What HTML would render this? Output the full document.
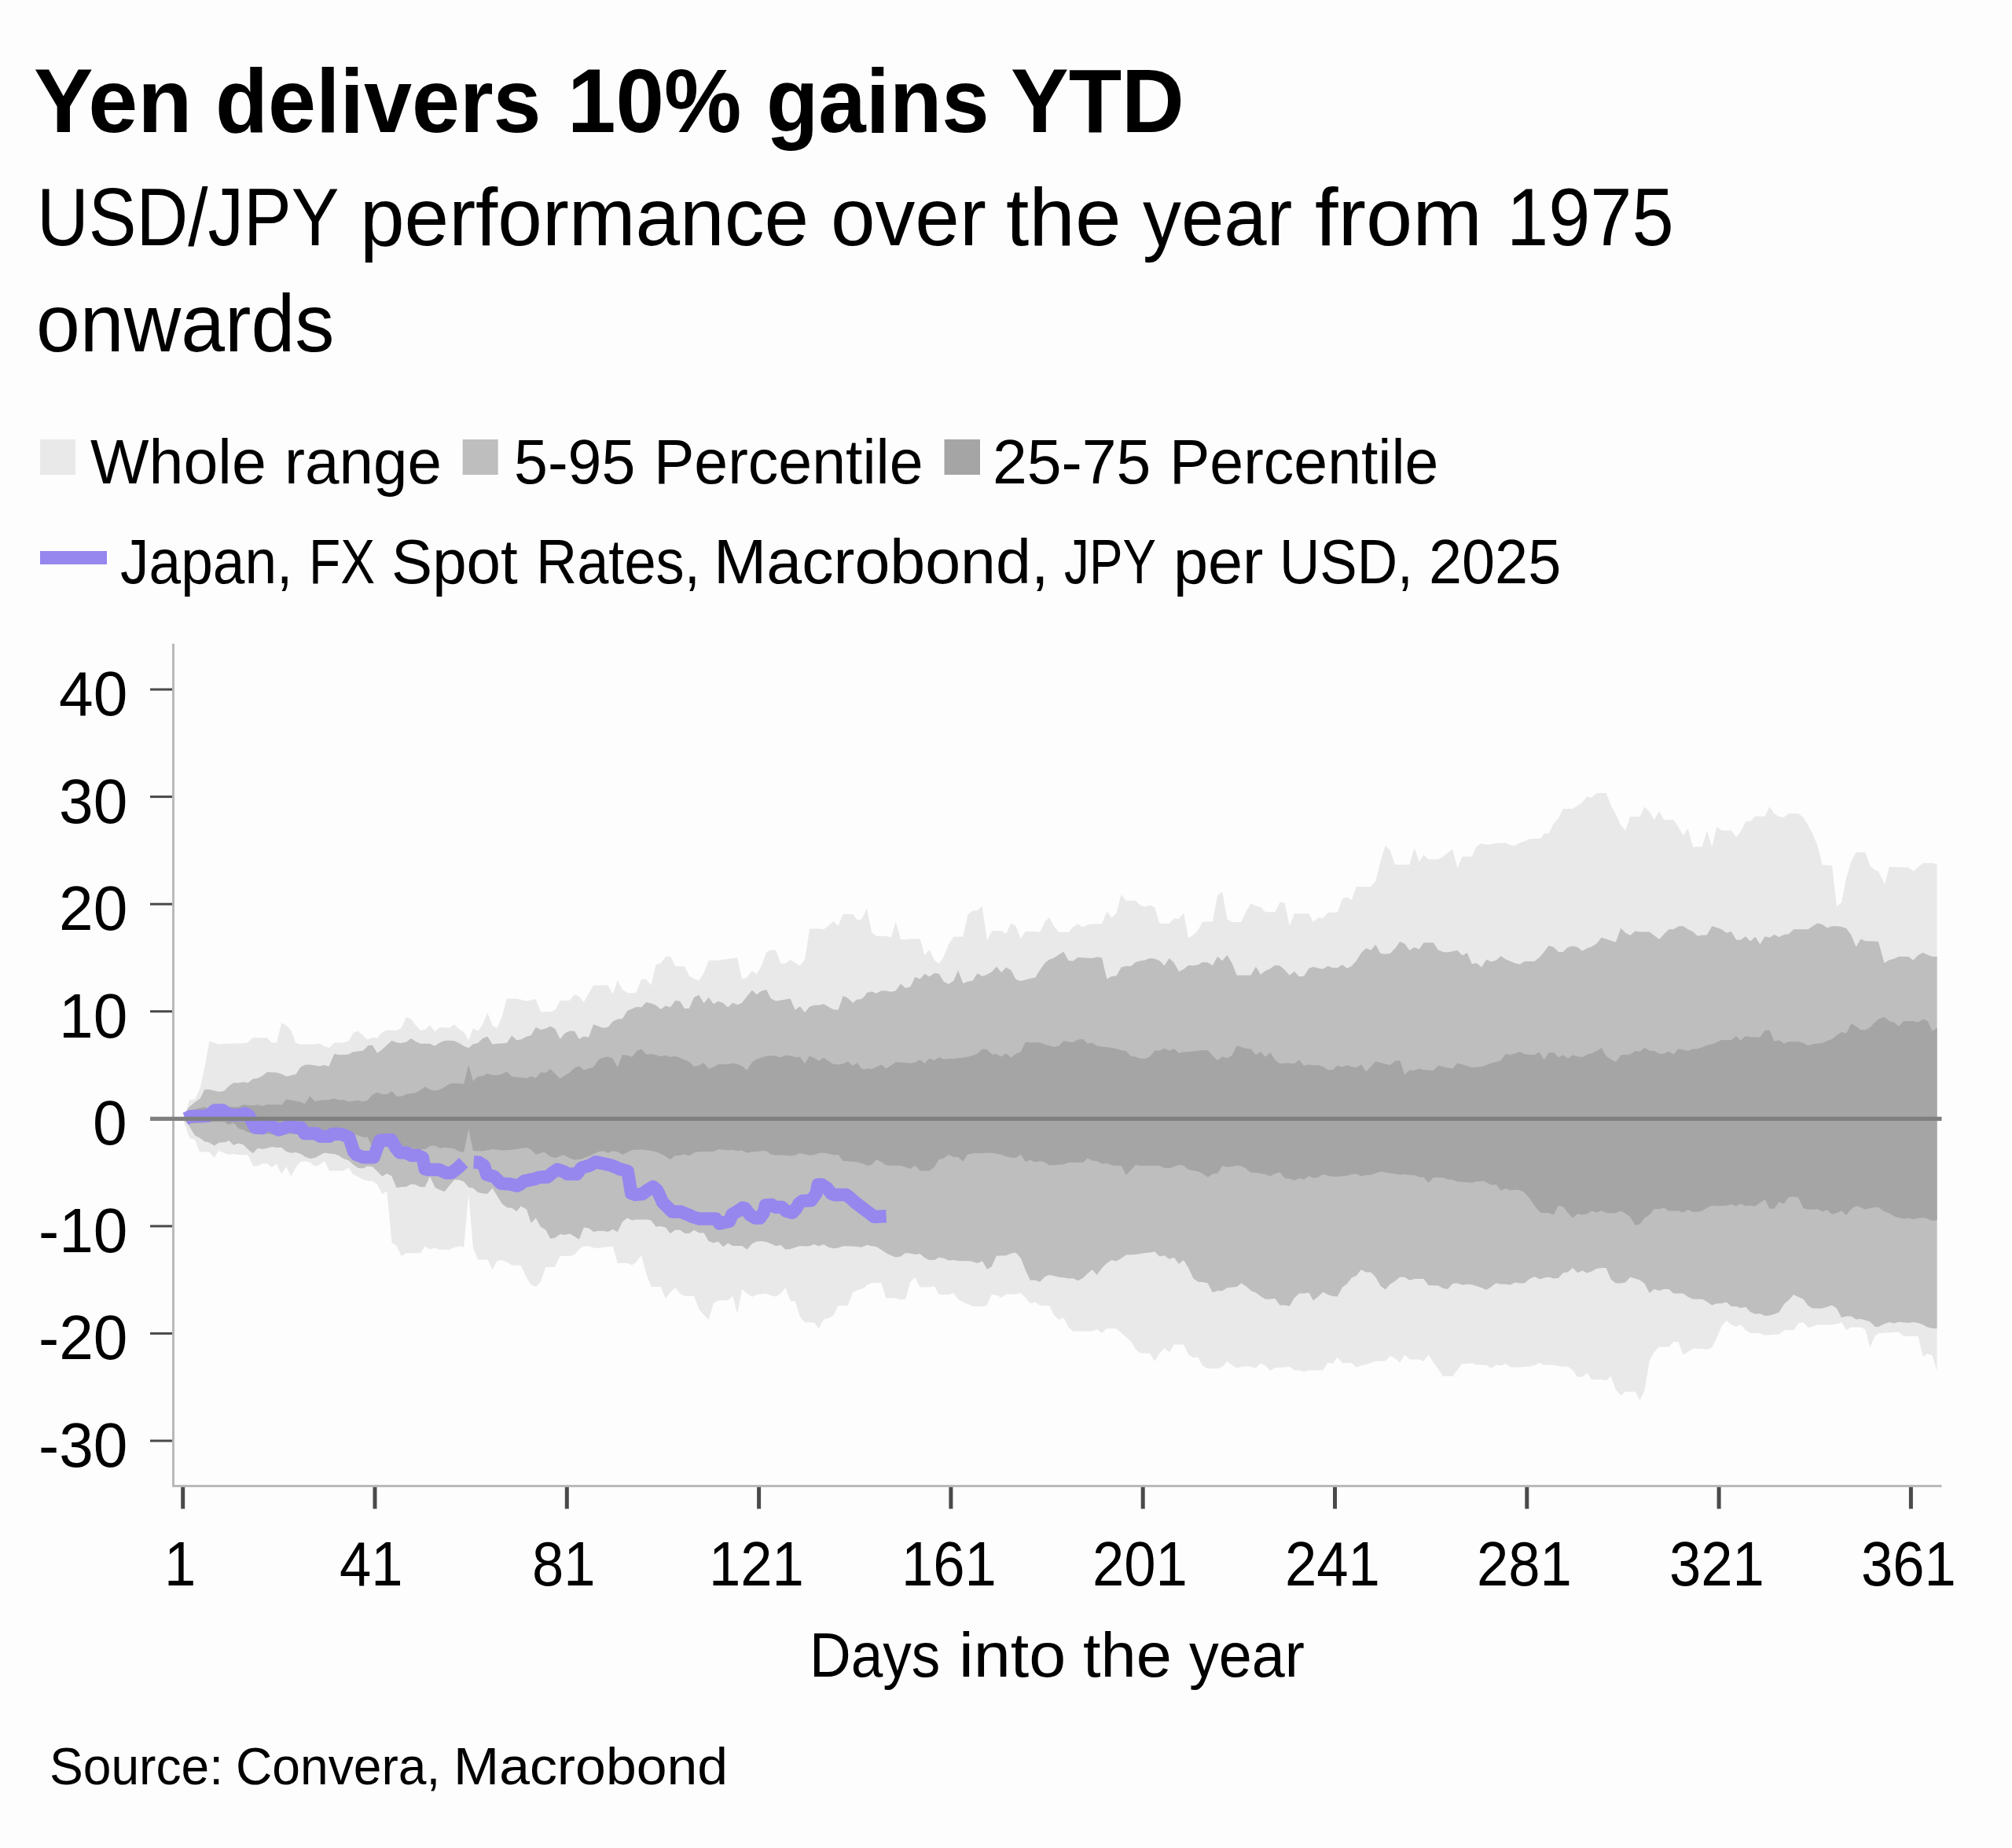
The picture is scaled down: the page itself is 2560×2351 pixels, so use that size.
<!DOCTYPE html>
<html><head><meta charset="utf-8"><title>Yen delivers 10% gains YTD</title>
<style>
html,body{margin:0;padding:0;background:#fdfdfd;}
body{width:2560px;height:2351px;position:relative;overflow:hidden;font-family:"Liberation Sans",sans-serif;color:#000;}
.t{position:absolute;white-space:nowrap;transform-origin:0 0;font-family:"Liberation Sans",sans-serif;color:#000;}
</style></head><body>
<svg width="2560" height="2351" viewBox="0 0 2560 2351" style="position:absolute;left:0;top:0">
<polygon points="232.5,1423.3 236.8,1413.1 241.2,1399.3 248.0,1398.8 254.7,1384.1 260.3,1358.3 266.3,1324.8 278.2,1328.2 313.9,1327.0 321.8,1320.3 339.7,1320.3 345.7,1326.4 352.0,1326.4 358.2,1301.3 364.3,1304.7 370.3,1310.7 376.1,1326.4 382.2,1328.6 398.9,1328.6 406.8,1327.5 412.3,1330.8 418.6,1333.1 425.3,1326.4 436.9,1326.4 443.7,1324.3 449.9,1314.1 455.3,1311.4 461.6,1317.0 467.8,1322.6 473.9,1319.9 480.1,1320.5 483.9,1315.4 488.4,1312.0 493.3,1310.7 505.2,1310.7 510.8,1307.6 517.0,1293.9 523.1,1296.2 528.6,1304.0 534.9,1310.7 540.9,1309.8 547.0,1304.2 553.3,1312.5 559.5,1306.9 571.6,1307.6 577.9,1303.5 584.1,1309.1 590.2,1312.9 596.2,1323.2 602.0,1308.5 608.0,1311.8 614.1,1303.5 620.3,1288.6 626.6,1304.7 632.6,1308.0 638.7,1293.5 645.0,1270.0 650.0,1270.5 656.7,1270.5 669.7,1273.6 681.8,1270.9 688.0,1287.2 700.3,1287.2 706.4,1284.8 712.6,1273.1 724.9,1272.7 731.0,1264.9 737.2,1268.0 742.8,1274.9 755.1,1253.5 773.5,1253.5 779.7,1264.6 785.8,1247.4 792.0,1259.3 798.7,1263.3 809.2,1263.3 816.0,1245.9 822.2,1245.9 828.5,1253.5 834.5,1227.3 840.6,1225.5 846.8,1217.2 852.9,1216.6 859.1,1229.1 871.0,1229.5 877.0,1241.8 883.1,1245.2 889.3,1247.4 895.6,1238.0 901.6,1221.7 913.9,1221.7 938.1,1218.3 944.1,1245.9 950.4,1243.4 956.9,1235.1 962.7,1238.9 968.7,1229.5 975.0,1211.6 981.0,1208.3 987.3,1209.0 993.3,1225.7 999.4,1225.7 1005.6,1221.0 1017.9,1228.4 1024.0,1221.0 1030.2,1181.4 1042.5,1181.4 1048.1,1182.6 1054.4,1177.6 1060.4,1171.8 1066.5,1178.1 1072.7,1162.9 1085.0,1162.9 1090.6,1170.3 1096.2,1169.8 1100.0,1162.4 1103.0,1155.5 1109.1,1186.1 1115.1,1191.0 1127.4,1191.0 1133.7,1192.4 1139.7,1172.7 1146.0,1195.1 1152.0,1195.5 1158.3,1194.4 1170.6,1194.4 1176.6,1215.6 1182.4,1208.0 1188.9,1221.4 1194.7,1225.9 1200.8,1217.0 1207.0,1201.3 1213.5,1191.7 1225.4,1191.7 1231.4,1163.7 1237.7,1158.2 1243.3,1158.8 1249.5,1152.6 1256.0,1196.2 1262.3,1184.3 1274.1,1184.3 1280.2,1187.9 1286.4,1174.5 1292.5,1178.3 1298.7,1193.9 1304.8,1185.0 1317.1,1185.0 1323.3,1185.7 1329.4,1172.7 1335.0,1167.1 1341.2,1178.3 1347.3,1186.1 1359.6,1186.1 1365.6,1179.0 1371.4,1175.6 1377.9,1179.4 1383.7,1176.5 1389.8,1175.4 1402.1,1175.4 1408.3,1159.3 1414.4,1167.8 1420.4,1162.0 1426.7,1138.0 1432.7,1145.8 1445.0,1145.8 1450.8,1151.4 1456.9,1153.7 1463.1,1151.4 1469.2,1154.3 1475.4,1174.9 1487.7,1174.9 1493.8,1168.2 1500.0,1168.9 1506.1,1161.5 1512.1,1193.5 1518.4,1189.5 1524.4,1183.2 1530.0,1172.7 1542.9,1172.4 1549.1,1139.1 1555.2,1134.4 1561.4,1169.3 1567.5,1173.1 1579.3,1173.1 1585.6,1159.2 1591.6,1149.1 1597.9,1152.5 1603.9,1154.1 1610.0,1160.3 1622.3,1160.3 1628.5,1148.0 1634.6,1148.5 1640.8,1178.0 1646.9,1162.3 1665.4,1162.3 1671.0,1173.1 1677.3,1167.5 1683.3,1167.9 1689.6,1160.8 1701.7,1160.8 1707.9,1143.6 1714.0,1141.3 1719.8,1145.1 1725.8,1127.9 1744.2,1128.3 1750.4,1120.5 1756.5,1095.9 1762.7,1075.8 1768.8,1082.0 1775.0,1099.9 1793.4,1099.9 1799.6,1078.7 1805.7,1096.6 1811.5,1087.4 1817.5,1093.2 1829.8,1093.2 1836.1,1089.7 1842.1,1084.7 1848.2,1080.3 1854.4,1104.2 1860.5,1089.7 1872.8,1089.7 1878.6,1076.9 1885.1,1072.9 1891.3,1074.7 1897.4,1074.2 1903.6,1072.4 1915.9,1072.4 1921.5,1075.3 1927.8,1075.8 1933.8,1072.0 1940.1,1070.2 1946.1,1067.3 1960.0,1066.8 1964.6,1060.4 1970.6,1059.9 1976.9,1047.4 1982.9,1040.9 1988.8,1029.1 2001.1,1029.1 2007.1,1025.0 2012.7,1021.2 2019.4,1013.4 2025.0,1015.0 2031.3,1008.9 2043.6,1008.9 2049.6,1024.2 2055.9,1035.8 2062.3,1049.7 2068.2,1056.6 2074.2,1039.1 2086.5,1039.1 2092.5,1026.2 2098.8,1032.9 2104.8,1043.2 2111.1,1032.0 2117.1,1042.9 2129.4,1042.9 2135.3,1052.1 2141.7,1063.1 2147.6,1053.7 2154.0,1077.2 2165.9,1077.2 2171.9,1056.6 2178.2,1077.8 2184.2,1051.9 2190.5,1056.4 2202.8,1056.4 2209.1,1064.9 2214.7,1058.2 2221.1,1045.2 2227.0,1044.7 2233.4,1038.5 2245.7,1038.5 2251.6,1026.2 2257.6,1035.3 2263.6,1039.1 2269.9,1039.8 2275.9,1035.1 2288.2,1035.1 2292.3,1038.0 2295.6,1041.8 2300.5,1049.9 2306.4,1061.1 2312.4,1075.4 2318.7,1100.6 2331.0,1101.1 2337.0,1153.2 2343.0,1148.3 2349.3,1116.7 2355.3,1096.2 2361.6,1084.3 2373.4,1084.3 2379.5,1101.8 2385.5,1106.7 2390.0,1108.5 2398.0,1125.1 2404.0,1102.8 2415.9,1103.2 2428.3,1103.4 2434.8,1108.6 2440.6,1103.2 2446.7,1098.0 2458.6,1098.0 2464.6,1099.5 2464.6,1743.7 2458.6,1724.7 2452.7,1722.1 2446.7,1725.8 2440.6,1699.8 2422.2,1699.8 2415.9,1694.4 2390.0,1696.3 2385.5,1699.7 2379.5,1714.2 2373.4,1691.4 2367.6,1688.5 2355.3,1688.5 2349.3,1692.3 2343.0,1682.3 2337.0,1684.5 2331.0,1685.2 2312.4,1685.6 2306.4,1687.4 2300.5,1689.2 2294.5,1682.3 2288.2,1683.6 2282.2,1692.3 2269.9,1692.3 2263.6,1697.5 2251.6,1698.1 2245.7,1699.0 2239.3,1695.9 2227.0,1695.9 2221.1,1692.3 2214.7,1685.2 2209.1,1687.8 2202.8,1685.2 2196.5,1680.2 2190.5,1687.0 2184.2,1702.4 2178.2,1714.2 2171.9,1717.1 2165.9,1715.8 2154.0,1715.8 2147.6,1719.8 2141.7,1723.6 2135.3,1706.9 2129.4,1706.9 2123.4,1713.6 2111.1,1713.6 2104.8,1720.3 2098.8,1731.0 2092.5,1768.4 2086.5,1781.3 2080.5,1770.6 2068.2,1770.6 2062.3,1775.1 2055.9,1767.9 2049.6,1750.7 2043.6,1756.3 2037.7,1754.9 2025.0,1754.9 2019.4,1746.7 2013.4,1751.8 2007.1,1751.8 2001.1,1742.9 1994.8,1738.4 1985.8,1738.4 1976.9,1736.6 1964.6,1736.6 1960.0,1734.4 1958.4,1733.7 1952.4,1737.1 1946.1,1738.4 1933.8,1739.5 1921.5,1739.3 1915.9,1734.8 1909.7,1737.3 1903.6,1736.6 1897.4,1740.6 1891.3,1736.6 1878.6,1736.2 1872.8,1733.9 1866.7,1735.0 1860.5,1734.8 1854.4,1742.9 1848.2,1750.7 1836.1,1750.7 1829.8,1741.7 1823.8,1733.3 1817.5,1723.6 1811.5,1731.7 1805.7,1729.4 1793.4,1729.4 1787.3,1723.6 1781.1,1733.7 1775.0,1728.1 1768.8,1725.0 1762.7,1731.5 1750.4,1731.7 1738.1,1735.9 1731.9,1737.3 1725.8,1739.5 1719.8,1733.9 1707.9,1733.9 1701.7,1726.5 1695.6,1735.0 1689.6,1733.3 1683.3,1743.3 1665.4,1743.3 1659.2,1744.9 1653.1,1743.3 1646.9,1743.3 1640.8,1738.4 1634.6,1739.5 1622.3,1740.0 1616.2,1743.8 1610.0,1737.3 1603.9,1734.4 1597.9,1740.6 1591.6,1738.4 1585.6,1738.2 1579.3,1738.8 1573.7,1740.6 1567.5,1736.6 1561.4,1731.7 1555.2,1738.8 1549.1,1741.1 1536.8,1741.1 1530.0,1737.3 1524.4,1726.5 1518.4,1727.2 1512.1,1723.2 1506.1,1710.4 1493.8,1710.4 1487.7,1720.5 1481.5,1714.9 1475.4,1721.4 1469.2,1731.7 1463.1,1721.4 1450.8,1721.4 1445.0,1716.5 1439.0,1706.4 1426.7,1695.7 1420.4,1690.3 1408.3,1690.3 1402.1,1695.7 1395.8,1691.2 1389.8,1693.4 1377.9,1693.7 1365.6,1693.7 1359.6,1688.5 1353.3,1676.2 1347.3,1679.1 1341.2,1673.3 1335.0,1661.0 1323.3,1661.0 1317.1,1656.8 1310.8,1658.3 1304.8,1650.9 1298.7,1644.9 1292.5,1646.5 1280.2,1646.5 1274.1,1650.9 1267.9,1647.6 1261.6,1647.1 1256.0,1660.6 1250.0,1662.1 1237.7,1662.1 1231.4,1659.0 1225.4,1656.5 1219.1,1652.7 1213.5,1644.9 1207.0,1647.1 1194.7,1647.1 1188.9,1636.4 1182.4,1637.5 1170.6,1637.5 1164.3,1625.2 1158.3,1631.0 1152.0,1652.7 1146.0,1653.4 1139.7,1651.6 1127.4,1651.6 1121.4,1631.9 1109.1,1632.2 1103.0,1634.8 1100.0,1638.2 1090.6,1641.6 1085.0,1644.2 1078.8,1661.0 1066.5,1661.0 1060.4,1673.5 1054.4,1676.9 1048.1,1678.5 1041.8,1690.1 1035.8,1682.5 1024.0,1682.5 1017.9,1675.1 1011.7,1655.4 1005.6,1655.0 999.4,1638.2 993.3,1645.4 987.3,1649.4 981.0,1648.3 975.0,1645.6 962.7,1647.1 956.9,1650.0 950.4,1645.4 944.1,1640.0 938.1,1671.3 932.3,1648.7 926.2,1654.3 913.9,1654.3 907.7,1658.3 901.6,1679.1 895.6,1672.9 889.3,1665.7 883.1,1648.7 871.0,1648.7 865.2,1645.4 859.1,1638.2 852.9,1643.8 846.8,1652.1 840.6,1637.1 828.5,1637.1 822.2,1620.3 816.0,1596.8 809.9,1605.3 804.3,1609.6 798.1,1606.9 785.8,1606.9 779.7,1585.6 767.4,1586.8 761.4,1587.9 755.1,1587.4 749.1,1585.2 742.8,1585.2 736.8,1589.4 731.0,1596.1 724.9,1597.9 712.6,1597.9 705.9,1612.0 694.3,1612.0 688.0,1630.4 681.8,1637.1 675.7,1634.4 670.0,1625.6 662.8,1610.0 651.2,1609.5 645.0,1605.5 638.7,1603.3 632.6,1603.7 626.6,1615.6 620.3,1602.6 608.0,1602.6 602.0,1587.6 596.2,1519.4 590.2,1586.5 584.1,1585.4 577.9,1586.9 571.6,1589.8 559.5,1589.8 553.3,1587.6 547.0,1589.4 540.9,1585.4 534.9,1594.3 517.0,1594.3 510.8,1598.1 504.5,1584.7 498.5,1580.9 492.4,1515.4 486.2,1518.9 480.1,1507.1 473.9,1502.6 467.8,1502.2 461.6,1500.4 455.3,1497.0 449.2,1494.3 443.7,1485.8 436.9,1489.6 419.1,1489.6 412.8,1476.9 406.8,1481.8 400.7,1484.0 394.9,1479.1 388.9,1477.6 382.6,1477.6 376.6,1484.7 370.3,1496.6 364.3,1484.3 358.2,1493.7 352.0,1480.7 345.7,1485.2 339.7,1480.2 334.1,1480.2 327.8,1483.6 321.8,1482.9 315.7,1469.5 303.2,1469.1 297.2,1467.9 291.1,1469.1 284.9,1466.8 278.6,1464.1 272.6,1472.4 266.3,1465.7 254.0,1465.3 248.0,1450.0 241.2,1447.8 236.8,1435.5 232.5,1423.3" fill="#e9e9e9"/>
<polygon points="232.5,1423.3 240.1,1408.7 248.0,1402.0 254.7,1397.5 260.3,1385.9 266.3,1385.9 278.6,1389.0 284.9,1388.1 291.1,1381.8 297.2,1377.4 303.2,1377.8 309.5,1376.5 315.7,1377.4 321.8,1372.4 327.8,1371.8 334.1,1368.4 339.7,1363.9 352.0,1364.4 358.2,1366.2 364.3,1369.5 376.6,1366.6 382.6,1357.2 388.9,1354.5 394.9,1354.5 406.8,1356.6 412.3,1355.0 418.6,1356.6 425.3,1340.5 431.4,1342.0 443.2,1341.6 449.2,1338.2 462.0,1336.7 468.3,1329.9 473.9,1329.7 480.1,1339.8 486.2,1335.3 498.5,1323.7 505.2,1326.6 510.8,1327.0 517.0,1325.5 523.1,1321.0 528.6,1324.8 534.9,1327.7 547.0,1327.7 553.3,1330.8 559.5,1326.4 565.6,1324.1 571.6,1323.7 577.9,1324.3 584.1,1327.0 590.2,1330.8 596.2,1333.3 602.0,1328.2 608.0,1327.0 614.1,1321.0 620.3,1318.8 626.6,1328.6 632.6,1327.7 645.0,1327.0 651.2,1317.6 657.3,1323.2 662.8,1322.6 670.0,1318.8 675.7,1317.2 681.8,1306.7 688.0,1310.0 694.3,1308.5 700.3,1305.6 706.4,1308.9 712.6,1321.7 718.7,1314.5 724.9,1311.6 731.0,1311.8 736.8,1321.7 742.8,1318.5 749.1,1319.4 755.1,1303.3 767.4,1307.8 773.5,1306.7 779.7,1299.5 785.8,1296.6 792.0,1296.0 798.1,1285.9 809.9,1281.0 816.0,1281.6 822.2,1274.9 828.5,1276.5 834.5,1278.7 840.6,1283.9 846.8,1279.4 852.9,1281.6 859.1,1273.1 865.2,1273.8 871.0,1283.2 877.0,1282.8 883.1,1268.7 889.3,1265.8 895.6,1276.5 901.6,1268.7 907.7,1277.2 913.9,1273.8 920.0,1276.0 926.2,1281.6 932.3,1275.8 938.5,1278.3 944.1,1275.8 950.4,1267.5 956.9,1259.7 962.7,1265.3 968.7,1260.8 975.0,1259.1 981.0,1270.5 987.3,1273.6 1005.6,1270.5 1011.7,1284.8 1017.9,1280.3 1024.0,1287.9 1029.8,1281.0 1035.8,1278.7 1041.8,1278.7 1048.1,1277.2 1054.4,1281.0 1060.4,1284.3 1066.5,1284.8 1072.7,1266.9 1078.8,1269.8 1085.0,1275.8 1090.6,1271.4 1096.2,1270.9 1100.0,1267.5 1103.0,1262.8 1109.1,1261.5 1115.1,1263.7 1121.4,1260.6 1127.4,1260.6 1133.7,1261.7 1139.7,1260.4 1146.0,1251.6 1152.0,1257.0 1158.3,1255.4 1164.3,1243.1 1170.6,1245.4 1176.6,1238.7 1182.4,1242.5 1188.9,1238.0 1194.7,1238.7 1200.8,1248.7 1207.0,1252.1 1213.5,1247.6 1219.1,1234.6 1225.4,1251.0 1231.4,1248.7 1237.7,1247.6 1243.7,1238.2 1250.0,1242.0 1256.0,1239.8 1262.3,1236.0 1267.9,1229.7 1274.1,1237.1 1280.2,1230.8 1286.4,1234.2 1292.5,1246.0 1298.7,1248.1 1304.8,1246.5 1310.8,1244.7 1317.1,1243.8 1323.3,1233.7 1329.4,1225.2 1335.0,1220.8 1341.2,1218.5 1347.3,1214.5 1353.3,1210.7 1359.6,1222.3 1365.6,1222.6 1371.4,1218.1 1389.8,1219.0 1395.8,1217.4 1402.1,1218.5 1408.3,1245.4 1414.4,1242.0 1420.4,1241.6 1426.7,1230.4 1432.7,1229.1 1439.0,1229.3 1445.0,1224.1 1450.8,1222.6 1456.9,1221.4 1463.1,1219.0 1469.2,1219.7 1475.4,1222.3 1481.5,1228.6 1487.7,1219.0 1493.8,1224.8 1500.0,1236.0 1506.1,1233.1 1512.1,1227.9 1518.4,1228.6 1524.4,1227.5 1530.0,1224.1 1536.8,1224.5 1542.9,1228.3 1549.1,1217.1 1555.2,1222.3 1561.4,1215.1 1567.5,1225.2 1573.7,1240.8 1591.6,1240.8 1597.9,1229.7 1603.9,1239.7 1610.0,1235.0 1616.2,1232.3 1622.3,1227.9 1628.5,1228.5 1634.6,1234.1 1640.8,1240.8 1646.9,1235.7 1653.1,1242.4 1659.2,1241.7 1665.4,1231.9 1671.0,1230.1 1677.3,1231.7 1683.3,1232.8 1689.6,1229.0 1695.6,1231.2 1701.7,1231.2 1707.9,1227.2 1714.0,1231.9 1719.8,1229.0 1725.8,1222.3 1731.9,1212.2 1738.1,1206.2 1744.2,1208.9 1750.4,1201.7 1756.5,1212.9 1762.7,1213.8 1768.8,1212.9 1775.0,1206.6 1781.1,1198.1 1787.3,1200.4 1793.4,1208.9 1799.6,1205.1 1805.7,1207.7 1811.5,1199.2 1823.8,1199.2 1829.8,1208.4 1836.1,1211.1 1842.1,1211.5 1854.4,1208.9 1860.5,1215.6 1866.7,1212.2 1872.8,1226.3 1878.6,1225.2 1885.1,1230.6 1891.3,1220.7 1897.4,1223.4 1903.6,1221.8 1909.7,1216.2 1915.9,1220.5 1921.5,1222.7 1927.8,1225.6 1933.8,1226.8 1940.1,1223.0 1952.4,1223.0 1960.0,1216.7 1964.6,1210.9 1970.6,1203.1 1976.9,1205.1 1982.9,1210.9 1988.8,1210.9 1994.8,1205.3 2001.1,1203.5 2007.1,1205.1 2013.4,1209.8 2019.4,1206.2 2025.0,1204.6 2031.3,1200.6 2037.7,1192.8 2043.6,1194.6 2049.6,1196.8 2055.9,1198.4 2062.3,1180.7 2068.2,1186.8 2074.2,1190.1 2080.5,1184.5 2086.5,1185.6 2098.8,1185.6 2111.1,1195.0 2117.1,1188.5 2123.4,1182.3 2129.4,1182.3 2135.3,1178.5 2141.7,1178.3 2147.6,1182.3 2154.0,1185.2 2159.9,1190.8 2165.9,1189.7 2171.9,1189.4 2178.2,1178.3 2184.2,1180.0 2190.5,1182.3 2196.5,1186.8 2202.8,1185.0 2209.1,1195.7 2214.7,1195.7 2221.1,1191.2 2227.0,1197.5 2233.4,1191.7 2239.3,1201.3 2245.7,1191.2 2251.6,1192.8 2257.6,1189.0 2263.6,1192.3 2269.9,1189.0 2275.9,1188.3 2282.2,1182.3 2300.5,1182.3 2306.4,1178.3 2312.4,1174.5 2318.7,1176.0 2324.7,1180.5 2331.0,1178.3 2337.0,1178.3 2343.0,1178.9 2349.3,1181.2 2355.3,1189.4 2361.6,1204.6 2367.6,1194.6 2373.4,1197.3 2385.5,1197.5 2390.0,1197.9 2397.5,1225.1 2404.0,1221.2 2409.9,1219.7 2415.9,1217.1 2428.3,1217.1 2434.3,1221.8 2440.6,1214.9 2446.7,1212.1 2452.7,1214.7 2458.6,1217.1 2464.6,1217.1 2464.6,1690.0 2458.6,1690.0 2452.7,1688.5 2446.7,1685.3 2440.6,1683.1 2434.3,1682.0 2428.3,1682.9 2415.9,1681.8 2409.9,1683.5 2404.0,1682.0 2397.5,1684.2 2390.0,1688.1 2385.5,1687.8 2379.5,1681.4 2373.4,1679.6 2367.6,1678.0 2361.6,1678.5 2355.3,1674.4 2349.3,1674.4 2343.0,1676.2 2337.0,1664.6 2331.0,1660.6 2324.7,1662.4 2318.7,1664.6 2306.4,1664.6 2300.5,1661.0 2294.5,1652.7 2288.2,1650.0 2282.2,1647.1 2275.9,1653.9 2269.9,1659.0 2263.6,1669.5 2257.6,1671.7 2251.6,1673.5 2245.7,1674.0 2239.3,1671.1 2233.4,1671.7 2227.0,1669.1 2221.1,1662.8 2214.7,1663.9 2209.1,1662.1 2202.8,1662.1 2196.5,1656.5 2190.5,1658.3 2184.2,1658.3 2178.2,1660.6 2171.9,1656.1 2165.9,1652.7 2154.0,1652.7 2147.6,1649.8 2141.7,1645.4 2129.4,1645.4 2123.4,1640.0 2117.1,1640.0 2111.1,1642.0 2104.8,1640.0 2098.8,1644.9 2092.5,1633.1 2086.5,1628.6 2080.5,1626.6 2074.2,1624.8 2068.2,1631.5 2062.3,1632.6 2055.9,1632.6 2049.6,1627.5 2043.6,1613.1 2037.7,1612.9 2031.3,1614.0 2025.0,1617.4 2019.4,1619.6 2013.4,1616.5 2007.1,1619.2 2001.1,1612.9 1994.8,1618.5 1988.8,1619.2 1982.9,1625.9 1976.9,1626.6 1970.6,1624.8 1964.6,1625.4 1960.0,1627.5 1952.4,1624.3 1946.1,1627.0 1940.1,1632.2 1933.8,1632.6 1927.8,1631.5 1921.5,1634.8 1915.9,1633.7 1909.7,1633.7 1903.6,1632.2 1897.4,1637.1 1891.3,1641.1 1885.1,1638.2 1878.6,1636.0 1872.8,1634.2 1866.7,1633.7 1860.5,1634.8 1854.4,1632.6 1848.2,1633.1 1842.1,1640.0 1836.1,1638.9 1829.8,1635.5 1817.5,1635.3 1811.5,1627.0 1799.6,1627.0 1793.4,1628.8 1787.3,1624.8 1781.1,1624.8 1775.0,1629.7 1768.8,1633.7 1762.7,1640.4 1756.5,1636.0 1750.4,1624.8 1744.2,1618.5 1738.1,1618.5 1731.9,1615.2 1725.8,1623.0 1719.8,1625.4 1714.0,1633.3 1707.9,1637.7 1701.7,1649.4 1695.6,1648.9 1689.6,1647.1 1683.3,1643.8 1677.3,1649.4 1671.0,1654.5 1665.4,1644.5 1659.2,1645.4 1653.1,1645.4 1646.9,1651.2 1640.8,1661.7 1634.6,1660.6 1628.5,1660.6 1622.3,1652.1 1616.2,1652.7 1610.0,1652.7 1603.9,1648.9 1597.9,1644.5 1591.6,1642.0 1585.6,1636.6 1579.3,1632.6 1573.7,1637.1 1561.4,1638.2 1555.2,1642.2 1549.1,1642.0 1542.9,1644.2 1536.8,1632.6 1530.0,1631.0 1524.4,1630.8 1518.4,1626.6 1512.1,1613.1 1506.1,1603.1 1500.0,1608.0 1493.8,1599.7 1487.7,1601.7 1481.5,1597.3 1475.4,1598.4 1469.2,1592.3 1463.1,1593.5 1456.9,1593.9 1450.8,1595.0 1445.0,1596.1 1432.7,1596.4 1426.7,1600.8 1420.4,1604.6 1414.4,1603.1 1408.3,1606.9 1402.1,1613.1 1395.8,1622.1 1389.8,1615.2 1383.7,1620.3 1377.9,1625.9 1371.4,1629.2 1365.6,1626.3 1359.6,1626.6 1353.3,1625.2 1347.3,1624.8 1341.2,1623.2 1335.0,1622.1 1329.4,1624.3 1323.3,1630.8 1317.1,1628.8 1310.8,1628.8 1304.8,1615.8 1298.7,1600.2 1292.5,1593.5 1286.4,1594.6 1280.2,1597.3 1267.9,1597.5 1261.6,1611.4 1256.0,1614.7 1250.0,1604.2 1243.7,1606.9 1234.3,1604.2 1219.1,1604.0 1213.5,1602.9 1207.0,1603.5 1200.8,1600.8 1194.7,1599.7 1188.9,1602.9 1182.4,1602.9 1176.6,1600.2 1170.6,1595.0 1164.3,1596.1 1158.3,1594.6 1152.0,1593.9 1146.0,1598.6 1139.7,1599.5 1133.7,1597.3 1127.4,1594.1 1121.4,1590.1 1115.1,1586.1 1109.1,1585.2 1103.0,1583.8 1100.0,1585.2 1096.2,1586.8 1085.0,1585.6 1072.7,1585.2 1066.5,1587.4 1060.4,1588.3 1054.4,1586.8 1048.1,1583.0 1041.8,1585.2 1035.8,1583.0 1029.8,1585.2 1024.0,1585.6 1017.9,1585.0 1005.6,1589.0 999.4,1589.4 993.3,1583.8 987.3,1585.2 981.0,1582.3 975.0,1580.0 968.7,1578.9 962.7,1579.6 956.9,1582.3 950.4,1589.4 944.1,1585.0 932.3,1585.0 926.2,1581.6 920.0,1586.3 913.9,1579.6 907.7,1581.2 901.6,1578.9 895.6,1568.4 889.3,1568.4 883.1,1564.8 877.0,1569.3 871.0,1568.9 865.2,1564.8 859.1,1564.8 852.9,1569.3 846.8,1561.5 840.6,1559.9 834.5,1560.4 828.5,1552.8 824.5,1551.4 809.9,1551.4 804.3,1552.5 798.1,1549.4 792.0,1554.3 785.8,1567.3 779.7,1563.9 773.5,1567.1 767.4,1566.0 761.4,1566.0 755.1,1567.1 749.1,1562.6 742.8,1561.5 736.8,1576.7 731.0,1572.9 724.9,1569.5 718.7,1571.1 712.6,1570.0 706.4,1574.5 700.3,1576.0 694.3,1564.4 688.0,1561.0 681.8,1549.4 675.7,1555.9 670.0,1538.4 662.8,1534.6 657.3,1541.1 651.2,1536.8 645.0,1536.2 638.7,1531.2 632.6,1521.6 626.6,1511.6 620.3,1518.7 614.1,1518.3 608.0,1517.1 602.0,1511.6 596.2,1510.4 590.2,1503.3 584.1,1501.0 577.9,1501.0 571.6,1508.6 565.6,1516.0 559.5,1513.8 553.3,1510.4 547.0,1496.6 540.9,1510.0 534.9,1510.0 528.6,1507.1 523.1,1506.6 517.0,1509.8 510.8,1510.0 504.5,1511.1 498.5,1496.6 492.4,1493.0 486.2,1496.6 480.1,1490.3 473.9,1484.3 467.8,1483.6 461.6,1486.5 455.3,1485.8 449.2,1481.4 443.7,1476.2 436.9,1474.0 431.4,1470.2 425.3,1467.9 419.1,1467.5 412.8,1466.4 406.8,1469.7 400.7,1473.1 394.9,1474.0 388.9,1472.0 382.6,1467.9 376.6,1466.1 370.3,1466.8 364.3,1465.0 358.2,1459.7 352.0,1460.1 345.7,1459.0 339.7,1460.8 334.1,1461.7 327.8,1460.8 321.8,1467.3 315.7,1462.3 309.5,1456.3 303.2,1454.5 297.2,1456.8 291.1,1450.7 287.1,1453.0 278.6,1453.8 272.6,1457.4 266.3,1453.4 260.3,1452.3 254.0,1447.4 248.0,1444.5 240.1,1431.5 232.5,1423.3" fill="#bebebe"/>
<polygon points="232.5,1423.3 242.4,1413.1 253.5,1409.8 260.3,1408.2 266.3,1411.4 275.9,1408.2 284.9,1406.9 291.1,1408.2 303.2,1408.2 309.5,1405.3 321.8,1406.4 327.8,1405.3 334.1,1406.9 339.7,1405.3 352.0,1405.3 358.2,1405.8 364.3,1398.6 376.6,1400.8 382.6,1402.0 387.7,1404.2 394.5,1394.6 400.7,1401.5 406.8,1399.7 418.6,1399.3 424.6,1397.5 431.4,1399.3 436.9,1399.3 443.7,1401.5 455.3,1399.7 461.6,1401.5 467.8,1399.7 473.9,1392.6 480.1,1389.7 486.2,1391.9 492.4,1392.3 498.5,1388.1 504.5,1394.8 510.8,1394.8 517.0,1391.9 528.6,1390.3 534.9,1386.7 540.9,1382.5 547.0,1386.3 553.3,1387.4 559.5,1386.3 565.6,1382.9 571.6,1379.1 577.9,1378.0 590.2,1379.1 596.2,1354.5 602.0,1375.6 608.0,1369.5 614.1,1369.1 620.3,1365.7 626.6,1367.7 632.6,1368.0 638.7,1366.2 645.0,1363.3 651.2,1369.5 670.0,1371.8 675.7,1369.3 681.8,1371.6 688.0,1364.2 694.3,1364.8 700.3,1359.9 712.6,1372.2 718.7,1368.2 724.9,1364.4 731.0,1358.6 736.8,1356.3 742.8,1361.5 749.1,1359.2 755.1,1357.7 761.4,1348.1 767.4,1345.4 773.5,1344.3 779.7,1346.5 785.8,1357.7 792.0,1342.0 798.1,1342.5 804.3,1344.7 809.9,1336.9 816.0,1334.6 822.2,1341.4 828.5,1340.7 834.5,1342.0 840.6,1344.0 846.8,1342.5 852.9,1344.7 859.1,1343.8 865.2,1345.8 877.0,1350.8 883.1,1357.0 889.3,1355.4 895.6,1352.1 901.6,1359.7 907.7,1357.5 913.9,1354.1 926.2,1354.1 932.3,1352.5 938.5,1353.7 944.1,1356.3 950.4,1361.5 956.9,1351.4 962.7,1347.6 968.7,1345.4 975.0,1343.6 981.0,1343.1 987.3,1343.6 993.3,1345.2 999.4,1342.5 1005.6,1343.1 1011.7,1344.7 1017.9,1344.7 1024.0,1353.2 1029.8,1343.6 1035.8,1345.8 1041.8,1349.6 1048.1,1345.4 1054.4,1350.3 1060.4,1353.7 1066.5,1354.3 1072.7,1353.2 1078.8,1350.3 1085.0,1355.9 1090.6,1351.9 1096.2,1359.2 1100.0,1360.8 1103.0,1359.4 1109.1,1360.1 1115.1,1357.2 1121.4,1354.5 1127.4,1359.4 1133.7,1355.6 1139.7,1351.2 1152.0,1352.1 1158.3,1352.7 1164.3,1351.6 1170.6,1348.3 1176.6,1352.7 1182.4,1346.5 1188.9,1348.9 1194.7,1344.9 1200.8,1347.6 1207.0,1346.7 1213.5,1347.1 1219.1,1346.0 1225.4,1345.6 1231.4,1344.5 1237.7,1342.7 1243.7,1340.4 1250.0,1334.4 1256.0,1335.3 1262.3,1341.6 1267.9,1341.1 1274.1,1344.2 1280.2,1340.0 1286.4,1345.6 1292.5,1340.4 1298.7,1338.6 1304.8,1325.4 1310.8,1326.3 1323.3,1326.3 1329.4,1328.8 1335.0,1329.9 1341.2,1331.9 1347.3,1330.4 1353.3,1324.3 1359.6,1325.2 1365.6,1325.9 1371.4,1322.5 1377.9,1322.1 1383.7,1327.5 1389.8,1326.6 1395.8,1330.4 1402.1,1331.5 1414.4,1333.1 1420.4,1334.2 1426.7,1336.0 1432.7,1337.1 1439.0,1343.8 1445.0,1344.2 1450.8,1346.7 1456.9,1346.7 1463.1,1344.2 1469.2,1336.6 1475.4,1336.4 1481.5,1333.7 1487.7,1336.4 1493.8,1334.2 1500.0,1339.8 1506.1,1338.6 1518.4,1337.5 1530.0,1336.0 1536.8,1336.3 1542.9,1343.1 1549.1,1349.1 1555.2,1344.2 1561.4,1346.0 1567.5,1343.1 1573.7,1330.3 1579.3,1331.9 1585.6,1334.1 1591.6,1334.6 1597.9,1341.9 1603.9,1338.1 1610.0,1344.6 1616.2,1339.0 1622.3,1348.6 1628.5,1353.1 1637.5,1352.5 1646.9,1353.1 1653.1,1348.6 1659.2,1356.0 1665.4,1354.2 1671.0,1355.4 1677.3,1354.9 1683.3,1357.1 1689.6,1360.9 1695.6,1360.9 1701.7,1355.4 1707.9,1357.6 1714.0,1354.9 1719.8,1357.1 1725.8,1358.0 1731.9,1354.2 1738.1,1363.6 1744.2,1356.9 1750.4,1350.2 1756.5,1352.0 1768.8,1354.9 1775.0,1349.8 1781.1,1349.1 1787.3,1367.2 1793.4,1361.4 1799.6,1361.6 1805.7,1359.4 1811.5,1360.9 1823.8,1362.1 1829.8,1355.4 1836.1,1356.9 1848.2,1359.8 1854.4,1352.5 1860.5,1354.2 1872.8,1358.0 1885.1,1356.9 1891.3,1354.9 1897.4,1352.5 1903.6,1350.9 1909.7,1349.1 1915.9,1340.8 1921.5,1341.9 1927.8,1340.1 1933.8,1338.1 1940.1,1341.3 1952.4,1341.9 1958.4,1338.6 1960.0,1340.8 1964.6,1348.3 1970.6,1339.3 1976.9,1338.9 1982.9,1344.9 1988.8,1342.2 1994.8,1346.5 2001.1,1342.2 2007.1,1343.8 2013.4,1344.9 2019.4,1341.6 2025.0,1340.0 2031.3,1337.1 2037.7,1333.1 2043.6,1343.8 2049.6,1347.6 2055.9,1351.0 2062.3,1342.2 2074.2,1341.6 2080.5,1337.1 2086.5,1337.8 2092.5,1333.1 2098.8,1336.4 2104.8,1337.1 2111.1,1340.5 2117.1,1340.5 2123.4,1337.5 2129.4,1341.6 2135.3,1334.4 2141.7,1335.5 2147.6,1337.1 2154.0,1334.4 2159.9,1334.2 2165.9,1332.2 2171.9,1329.7 2178.2,1328.2 2184.2,1325.9 2190.5,1323.0 2202.8,1323.2 2209.1,1318.1 2214.7,1323.7 2221.1,1318.1 2227.0,1319.2 2239.3,1319.7 2245.7,1310.7 2251.6,1310.7 2257.6,1324.8 2263.6,1323.2 2269.9,1327.5 2275.9,1325.2 2288.2,1325.2 2294.5,1327.0 2300.5,1329.9 2306.4,1328.2 2318.7,1327.0 2324.7,1324.3 2331.0,1322.1 2337.0,1317.0 2343.0,1312.9 2349.3,1314.7 2355.3,1302.0 2361.6,1305.8 2367.6,1310.3 2373.4,1310.3 2379.5,1306.9 2385.5,1300.6 2390.0,1296.8 2397.5,1293.7 2404.0,1299.3 2409.9,1300.4 2415.9,1305.8 2422.2,1299.1 2434.3,1299.1 2440.6,1300.4 2446.7,1296.5 2452.7,1299.1 2458.6,1311.6 2464.6,1307.7 2464.6,1552.2 2458.6,1553.2 2452.7,1550.4 2446.7,1548.9 2440.6,1549.8 2434.3,1551.1 2428.3,1549.8 2422.2,1550.4 2415.9,1548.9 2409.9,1547.2 2404.0,1543.5 2397.5,1541.3 2390.0,1536.0 2385.5,1535.8 2379.5,1536.9 2373.4,1538.7 2367.6,1536.0 2361.6,1534.2 2355.3,1538.2 2349.3,1545.8 2343.0,1540.2 2337.0,1543.1 2331.0,1544.7 2324.7,1539.1 2318.7,1541.4 2312.4,1538.0 2306.4,1538.7 2300.5,1538.7 2294.5,1537.1 2288.2,1523.5 2282.2,1522.6 2275.9,1523.0 2269.9,1531.3 2263.6,1529.3 2257.6,1537.5 2251.6,1538.0 2245.7,1525.9 2239.3,1530.2 2233.4,1534.6 2227.0,1533.5 2221.1,1534.2 2214.7,1531.5 2209.1,1534.6 2202.8,1532.0 2196.5,1533.7 2184.2,1534.2 2178.2,1533.7 2171.9,1536.4 2165.9,1540.5 2159.9,1541.4 2154.0,1542.0 2147.6,1538.7 2141.7,1542.5 2135.3,1540.5 2123.4,1540.5 2117.1,1536.4 2111.1,1538.0 2104.8,1538.0 2098.8,1545.4 2092.5,1549.4 2086.5,1557.2 2080.5,1558.8 2074.2,1548.1 2068.2,1543.8 2062.3,1540.5 2055.9,1543.1 2049.6,1543.6 2043.6,1542.7 2037.7,1540.2 2031.3,1542.5 2025.0,1540.5 2019.4,1544.3 2013.4,1545.4 2007.1,1544.3 2001.1,1549.4 1994.8,1543.1 1988.8,1534.9 1982.9,1533.7 1976.9,1545.4 1970.6,1543.1 1964.6,1543.1 1960.0,1542.5 1958.4,1540.9 1952.4,1533.7 1946.1,1524.6 1940.1,1517.4 1933.8,1514.1 1927.8,1513.6 1921.5,1514.5 1915.9,1511.8 1909.7,1514.5 1903.6,1506.9 1897.4,1507.4 1888.0,1502.4 1878.6,1502.9 1872.8,1504.7 1866.7,1504.0 1854.4,1503.3 1848.2,1501.1 1842.1,1500.2 1836.1,1498.0 1823.8,1498.0 1817.5,1504.7 1811.5,1497.7 1805.7,1497.3 1799.6,1495.1 1793.4,1495.1 1787.3,1493.9 1781.1,1494.4 1768.8,1492.4 1756.5,1490.6 1750.4,1492.4 1744.2,1494.6 1738.1,1495.1 1731.9,1496.2 1725.8,1493.3 1719.8,1493.9 1714.0,1495.7 1704.6,1496.8 1695.6,1496.8 1689.6,1495.7 1683.3,1493.9 1677.3,1497.7 1671.0,1498.4 1665.4,1496.2 1659.2,1500.6 1653.1,1499.1 1646.9,1501.8 1640.8,1499.5 1634.6,1498.9 1628.5,1491.3 1622.3,1493.3 1616.2,1496.2 1610.0,1493.9 1597.9,1491.7 1591.6,1491.7 1585.6,1486.8 1579.3,1483.2 1573.7,1482.8 1567.5,1484.3 1561.4,1484.5 1555.2,1483.2 1549.1,1492.8 1542.9,1493.3 1536.8,1497.7 1530.0,1493.0 1524.4,1490.3 1512.1,1488.0 1506.1,1483.1 1500.0,1482.0 1493.8,1484.2 1487.7,1486.3 1481.5,1485.8 1475.4,1483.1 1469.2,1483.1 1450.8,1483.1 1445.0,1481.8 1439.0,1488.5 1432.7,1494.8 1426.7,1482.9 1420.4,1483.1 1414.4,1482.5 1408.3,1479.8 1402.1,1480.7 1395.8,1477.3 1389.8,1476.4 1383.7,1473.5 1377.9,1479.1 1359.6,1479.1 1353.3,1481.3 1335.0,1482.5 1329.4,1478.4 1323.3,1476.9 1317.1,1478.4 1310.8,1475.7 1304.8,1478.0 1298.7,1469.0 1292.5,1473.1 1286.4,1472.8 1280.2,1471.3 1274.1,1469.0 1262.3,1466.8 1256.0,1466.8 1237.7,1467.2 1231.4,1468.6 1225.4,1477.5 1219.1,1471.9 1213.5,1471.9 1207.0,1469.0 1200.8,1473.5 1194.7,1475.1 1188.9,1484.7 1182.4,1489.6 1170.6,1489.6 1164.3,1482.5 1158.3,1486.9 1152.0,1484.7 1146.0,1482.9 1127.4,1482.5 1121.4,1478.0 1115.1,1475.3 1109.1,1481.8 1103.0,1482.9 1100.0,1481.0 1090.6,1478.3 1078.8,1477.2 1072.7,1476.7 1066.5,1468.9 1060.4,1469.3 1048.1,1466.4 1041.8,1467.1 1035.8,1469.3 1029.8,1469.8 1017.9,1467.1 1011.7,1469.8 1005.6,1470.5 993.3,1469.3 987.3,1469.8 981.0,1468.7 975.0,1464.2 968.7,1464.2 962.7,1465.3 956.9,1465.3 950.4,1466.7 944.1,1463.3 938.5,1464.2 932.3,1463.1 926.2,1463.3 913.9,1462.2 907.7,1464.9 889.3,1465.3 883.1,1466.4 877.0,1470.5 871.0,1468.2 865.2,1470.0 859.1,1470.0 852.9,1474.9 844.6,1469.8 836.8,1466.0 828.5,1463.7 816.0,1462.6 804.3,1463.1 792.0,1468.9 785.8,1465.3 779.7,1464.2 773.5,1466.7 767.4,1464.2 761.4,1465.3 749.1,1470.9 739.5,1474.5 731.0,1475.4 724.9,1473.4 717.1,1469.3 706.4,1473.1 700.3,1471.6 692.5,1465.5 681.8,1468.7 675.7,1462.6 670.0,1460.1 651.2,1462.8 638.7,1463.5 626.6,1461.9 614.1,1464.6 602.0,1464.1 596.2,1436.6 590.2,1465.7 584.1,1465.0 577.9,1461.2 565.6,1459.7 559.5,1460.8 553.3,1457.4 547.0,1457.9 540.9,1461.9 528.6,1462.3 517.5,1458.3 508.5,1457.4 499.6,1459.0 488.4,1457.9 480.6,1460.1 473.9,1460.1 467.8,1446.7 461.6,1446.7 452.6,1443.3 443.7,1442.2 434.7,1443.3 421.3,1444.5 410.1,1446.7 394.5,1446.7 381.0,1443.3 367.6,1442.2 354.2,1444.9 340.8,1442.2 327.4,1442.7 315.7,1440.4 309.5,1437.3 303.2,1435.5 297.2,1428.3 291.1,1431.0 284.9,1427.0 272.6,1427.2 260.3,1428.3 240.1,1429.2 232.5,1423.3" fill="#a5a5a5"/>
<rect x="191" y="875.6" width="29" height="3" fill="#4a4a4a"/>
<rect x="191" y="1012.1" width="29" height="3" fill="#4a4a4a"/>
<rect x="191" y="1148.7" width="29" height="3" fill="#4a4a4a"/>
<rect x="191" y="1285.2" width="29" height="3" fill="#4a4a4a"/>
<rect x="191" y="1558.4" width="29" height="3" fill="#4a4a4a"/>
<rect x="191" y="1694.9" width="29" height="3" fill="#4a4a4a"/>
<rect x="191" y="1831.5" width="29" height="3" fill="#4a4a4a"/>
<rect x="219" y="819" width="3" height="1073" fill="#b9b9b9"/>
<rect x="219" y="1889" width="2251.5" height="3" fill="#b9b9b9"/>
<rect x="230.2" y="1892" width="5" height="27.5" fill="#4a4a4a"/>
<rect x="474.5" y="1892" width="5" height="27.5" fill="#4a4a4a"/>
<rect x="718.8" y="1892" width="5" height="27.5" fill="#4a4a4a"/>
<rect x="963.1" y="1892" width="5" height="27.5" fill="#4a4a4a"/>
<rect x="1207.4" y="1892" width="5" height="27.5" fill="#4a4a4a"/>
<rect x="1451.7" y="1892" width="5" height="27.5" fill="#4a4a4a"/>
<rect x="1696.0" y="1892" width="5" height="27.5" fill="#4a4a4a"/>
<rect x="1940.3" y="1892" width="5" height="27.5" fill="#4a4a4a"/>
<rect x="2184.6" y="1892" width="5" height="27.5" fill="#4a4a4a"/>
<rect x="2428.9" y="1892" width="5" height="27.5" fill="#4a4a4a"/>
<polyline points="236.0,1423.2 242.3,1420.3 264.4,1419.6 273.3,1412.4 282.9,1412.4 292.4,1418.2 307.3,1418.4 311.5,1416.6 316.4,1418.8 324.7,1434.4 334.1,1435.1 337.7,1431.1 343.1,1431.1 354.4,1437.4 365.2,1434.0 367.9,1431.1 372.0,1433.2 375.5,1434.4 383.1,1434.8 387.5,1442.1 402.7,1441.9 406.6,1445.4 419.4,1445.7 422.7,1442.7 430.2,1442.5 436.7,1443.7 444.2,1446.8 449.9,1464.7 453.4,1468.9 461.8,1472.1 461.8,1472.2 475.6,1472.2 483.4,1450.7 497.7,1450.1 503.7,1460.3 508.4,1466.2 516.8,1466.5 524.0,1470.1 532.3,1470.1 537.7,1472.8 540.7,1487.1 544.2,1488.0 558.5,1488.0 568.1,1492.2 574.7,1491.9 582.4,1485.9 589.8,1478.9" fill="none" stroke="#9687ee" stroke-width="16.5" stroke-linejoin="round" stroke-linecap="butt"/>
<polyline points="602.7,1478.4 609.2,1478.8 615.8,1482.9 619.4,1494.3 628.9,1497.0 637.3,1505.6 649.2,1506.4 657.6,1508.6 661.7,1506.8 667.1,1502.6 673.1,1501.4 681.4,1499.6 685.6,1497.9 690.0,1497.3 696.5,1497.5 702.9,1492.0 709.3,1487.7 718.4,1491.1 721.6,1493.6 734.0,1493.6 739.9,1485.6 749.7,1482.9 758.2,1478.3 768.0,1480.3 776.5,1482.2 782.0,1484.2 787.9,1487.0 792.5,1488.3 798.7,1490.2 803.2,1518.1 808.0,1519.9 817.2,1519.0 824.0,1514.0 830.9,1509.8 835.9,1514.0 838.2,1518.3 843.2,1529.7 850.3,1536.6 855.1,1541.6 866.3,1541.6 874.3,1544.8 881.2,1548.0 889.2,1550.5 910.9,1550.5 915.5,1556.5 928.1,1553.7 931.5,1545.0 938.6,1540.9 944.8,1536.6 948.0,1537.3 954.4,1545.7 961.2,1549.6 966.9,1549.6 971.5,1542.8 974.0,1533.2 981.8,1532.7 986.4,1535.7 994.6,1535.7 1000.1,1540.5 1008.3,1542.8 1012.9,1537.7 1016.5,1531.3 1021.1,1527.7 1032.1,1527.2 1038.5,1518.3 1040.8,1506.9 1045.8,1507.3 1052.2,1511.4 1057.7,1518.5 1061.4,1519.9 1076.7,1519.9 1082.4,1524.5 1088.1,1529.7 1094.3,1534.3 1100.2,1538.9 1106.4,1543.4 1112.1,1548.0 1127.7,1547.3" fill="none" stroke="#9687ee" stroke-width="16.5" stroke-linejoin="round" stroke-linecap="butt"/>
<rect x="191" y="1420.7" width="2279.5" height="5.2" fill="#7f7f7f"/>
<rect x="51" y="559" width="45" height="45" fill="#e9e9e9"/>
<rect x="588.7" y="559" width="45" height="45" fill="#bebebe"/>
<rect x="1201.5" y="559" width="45.5" height="45" fill="#a5a5a5"/>
<rect x="51" y="701" width="85" height="17" fill="#9687ee"/>
</svg>
<div class="t" style="left:42.95px;top:70.58px;font-size:115.2px;line-height:115.2px;font-weight:bold;transform:scaleX(0.9831)">Yen</div>
<div class="t" style="left:273.74px;top:70.58px;font-size:115.2px;line-height:115.2px;font-weight:bold;transform:scaleX(0.9521)">delivers</div>
<div class="t" style="left:721.98px;top:70.58px;font-size:115.2px;line-height:115.2px;font-weight:bold;transform:scaleX(0.9600)">10%</div>
<div class="t" style="left:974.89px;top:70.58px;font-size:115.2px;line-height:115.2px;font-weight:bold;transform:scaleX(0.9430)">gains</div>
<div class="t" style="left:1285.72px;top:70.58px;font-size:115.2px;line-height:115.2px;font-weight:bold;transform:scaleX(0.9587)">YTD</div>
<div class="t" style="left:46.84px;top:224.74px;font-size:103.2px;line-height:103.2px;font-weight:normal;transform:scaleX(0.8824)">USD/JPY</div>
<div class="t" style="left:457.80px;top:224.74px;font-size:103.2px;line-height:103.2px;font-weight:normal;transform:scaleX(0.9859)">performance</div>
<div class="t" style="left:1057.26px;top:224.74px;font-size:103.2px;line-height:103.2px;font-weight:normal;transform:scaleX(0.9851)">over</div>
<div class="t" style="left:1280.26px;top:224.74px;font-size:103.2px;line-height:103.2px;font-weight:normal;transform:scaleX(1.0219)">the</div>
<div class="t" style="left:1453.95px;top:224.74px;font-size:103.2px;line-height:103.2px;font-weight:normal;transform:scaleX(0.9475)">year</div>
<div class="t" style="left:1672.57px;top:224.74px;font-size:103.2px;line-height:103.2px;font-weight:normal;transform:scaleX(1.0327)">from</div>
<div class="t" style="left:1916.59px;top:224.74px;font-size:103.2px;line-height:103.2px;font-weight:normal;transform:scaleX(0.9263)">1975</div>
<div class="t" style="left:46.21px;top:359.94px;font-size:103.2px;line-height:103.2px;font-weight:normal;transform:scaleX(0.9730)">onwards</div>
<div class="t" style="left:115.00px;top:546.76px;font-size:80.5px;line-height:80.5px;font-weight:normal;transform:scaleX(0.9809)">Whole</div>
<div class="t" style="left:361.55px;top:546.76px;font-size:80.5px;line-height:80.5px;font-weight:normal;transform:scaleX(0.9706)">range</div>
<div class="t" style="left:653.73px;top:546.76px;font-size:80.5px;line-height:80.5px;font-weight:normal;transform:scaleX(0.9581)">5-95</div>
<div class="t" style="left:831.80px;top:546.76px;font-size:80.5px;line-height:80.5px;font-weight:normal;transform:scaleX(0.9568)">Percentile</div>
<div class="t" style="left:1263.29px;top:546.76px;font-size:80.5px;line-height:80.5px;font-weight:normal;transform:scaleX(0.9783)">25-75</div>
<div class="t" style="left:1487.80px;top:546.76px;font-size:80.5px;line-height:80.5px;font-weight:normal;transform:scaleX(0.9565)">Percentile</div>
<div class="t" style="left:152.99px;top:674.06px;font-size:80.5px;line-height:80.5px;font-weight:normal;transform:scaleX(0.9077)">Japan,</div>
<div class="t" style="left:392.68px;top:674.06px;font-size:80.5px;line-height:80.5px;font-weight:normal;transform:scaleX(0.8170)">FX</div>
<div class="t" style="left:497.92px;top:674.06px;font-size:80.5px;line-height:80.5px;font-weight:normal;transform:scaleX(0.9708)">Spot</div>
<div class="t" style="left:681.62px;top:674.06px;font-size:80.5px;line-height:80.5px;font-weight:normal;transform:scaleX(0.8972)">Rates,</div>
<div class="t" style="left:908.18px;top:674.06px;font-size:80.5px;line-height:80.5px;font-weight:normal;transform:scaleX(1.0029)">Macrobond,</div>
<div class="t" style="left:1353.71px;top:674.06px;font-size:80.5px;line-height:80.5px;font-weight:normal;transform:scaleX(0.7924)">JPY</div>
<div class="t" style="left:1492.68px;top:674.06px;font-size:80.5px;line-height:80.5px;font-weight:normal;transform:scaleX(0.9836)">per</div>
<div class="t" style="left:1628.10px;top:674.06px;font-size:80.5px;line-height:80.5px;font-weight:normal;transform:scaleX(0.8827)">USD,</div>
<div class="t" style="left:1818.34px;top:674.06px;font-size:80.5px;line-height:80.5px;font-weight:normal;transform:scaleX(0.9395)">2025</div>
<div class="t" style="left:75.45px;top:842.02px;font-size:80.5px;line-height:80.5px;font-weight:normal;transform:scaleX(0.9750)">40</div>
<div class="t" style="left:75.45px;top:978.58px;font-size:80.5px;line-height:80.5px;font-weight:normal;transform:scaleX(0.9750)">30</div>
<div class="t" style="left:75.45px;top:1115.14px;font-size:80.5px;line-height:80.5px;font-weight:normal;transform:scaleX(0.9750)">20</div>
<div class="t" style="left:75.45px;top:1251.70px;font-size:80.5px;line-height:80.5px;font-weight:normal;transform:scaleX(0.9750)">10</div>
<div class="t" style="left:118.35px;top:1388.26px;font-size:80.5px;line-height:80.5px;font-weight:normal;transform:scaleX(0.9750)">0</div>
<div class="t" style="left:49.13px;top:1524.82px;font-size:80.5px;line-height:80.5px;font-weight:normal;transform:scaleX(0.9750)">-10</div>
<div class="t" style="left:49.13px;top:1661.38px;font-size:80.5px;line-height:80.5px;font-weight:normal;transform:scaleX(0.9750)">-20</div>
<div class="t" style="left:49.13px;top:1797.94px;font-size:80.5px;line-height:80.5px;font-weight:normal;transform:scaleX(0.9750)">-30</div>
<div class="t" style="left:208.65px;top:1949.36px;font-size:80.5px;line-height:80.5px;font-weight:normal;transform:scaleX(0.9000)">1</div>
<div class="t" style="left:431.80px;top:1949.36px;font-size:80.5px;line-height:80.5px;font-weight:normal;transform:scaleX(0.9000)">41</div>
<div class="t" style="left:677.20px;top:1949.36px;font-size:80.5px;line-height:80.5px;font-weight:normal;transform:scaleX(0.9000)">81</div>
<div class="t" style="left:902.20px;top:1949.36px;font-size:80.5px;line-height:80.5px;font-weight:normal;transform:scaleX(0.9000)">121</div>
<div class="t" style="left:1146.80px;top:1949.36px;font-size:80.5px;line-height:80.5px;font-weight:normal;transform:scaleX(0.9000)">161</div>
<div class="t" style="left:1390.30px;top:1949.36px;font-size:80.5px;line-height:80.5px;font-weight:normal;transform:scaleX(0.9000)">201</div>
<div class="t" style="left:1634.60px;top:1949.36px;font-size:80.5px;line-height:80.5px;font-weight:normal;transform:scaleX(0.9000)">241</div>
<div class="t" style="left:1878.90px;top:1949.36px;font-size:80.5px;line-height:80.5px;font-weight:normal;transform:scaleX(0.9000)">281</div>
<div class="t" style="left:2123.65px;top:1949.36px;font-size:80.5px;line-height:80.5px;font-weight:normal;transform:scaleX(0.9000)">321</div>
<div class="t" style="left:2367.95px;top:1949.36px;font-size:80.5px;line-height:80.5px;font-weight:normal;transform:scaleX(0.9000)">361</div>
<div class="t" style="left:1030.16px;top:2065.26px;font-size:80.5px;line-height:80.5px;font-weight:normal;transform:scaleX(0.9063)">Days</div>
<div class="t" style="left:1220.25px;top:2065.26px;font-size:80.5px;line-height:80.5px;font-weight:normal;transform:scaleX(1.0496)">into</div>
<div class="t" style="left:1378.29px;top:2065.26px;font-size:80.5px;line-height:80.5px;font-weight:normal;transform:scaleX(1.0075)">the</div>
<div class="t" style="left:1513.20px;top:2065.26px;font-size:80.5px;line-height:80.5px;font-weight:normal;transform:scaleX(0.9387)">year</div>
<div class="t" style="left:62.52px;top:2213.74px;font-size:66.7px;line-height:66.7px;font-weight:normal;transform:scaleX(0.9615)">Source:</div>
<div class="t" style="left:300.01px;top:2213.74px;font-size:66.7px;line-height:66.7px;font-weight:normal;transform:scaleX(0.9622)">Convera,</div>
<div class="t" style="left:577.17px;top:2213.74px;font-size:66.7px;line-height:66.7px;font-weight:normal;transform:scaleX(1.0466)">Macrobond</div>
</body></html>
